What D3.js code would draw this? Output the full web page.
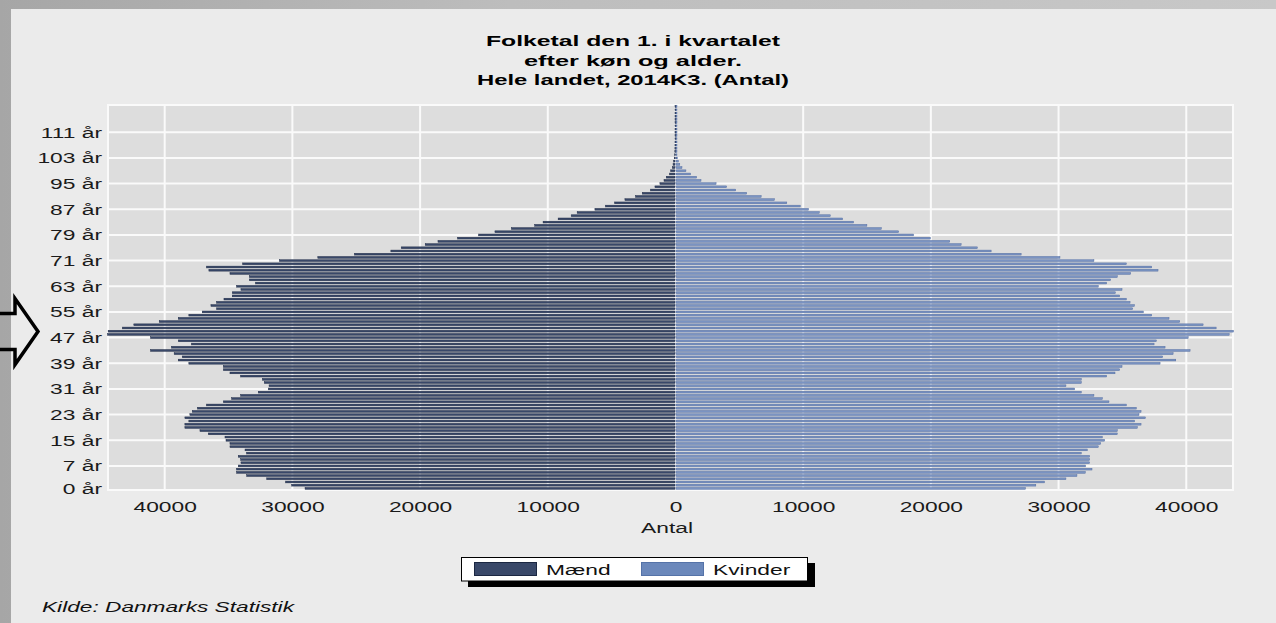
<!DOCTYPE html>
<html>
<head>
<meta charset="utf-8">
<script src="https://cdn.jsdelivr.net/npm/d3@7"></script>
<style>
  html, body { margin: 0; padding: 0; }
  body {
    width: 1276px; height: 623px; overflow: hidden;
    background: linear-gradient(90deg, #a6a6a6 0%, #bdbdbd 40%, #c8c8c8 100%);
  }
  svg { display: block; font-family: "Liberation Sans", Arial, sans-serif; }
</style>
</head>
<body>
<div id="chart"></div>
<script>
// ages 0..119
const ages = d3.range(0, 120);

// Mænd, antal per alder (0 år .. 119 år)
const maend = [
  28970, 30010, 30480, 31970, 33540, 34330, 34330, 34200, 33990, 34010,
  34200, 33540, 33670, 34850, 34850, 35160, 35240, 36550, 37200, 38380,
  38380, 38070, 38380, 37990, 37800, 37390, 36680, 35370, 34720, 34010,
  32630, 31840, 31790, 32160, 32310, 34010, 34850, 35370, 35370, 38070,
  38900, 38590, 39220, 41070, 39430, 37860, 38900, 41070, 44440, 44390,
  43270, 42380, 40390, 38900, 38070, 37020, 35900, 36340, 35900, 35320,
  34670, 34670, 33990, 34330, 32840, 33330, 33330, 34850, 36500, 36680,
  33860, 30980, 27970, 25100, 22250, 21440, 19560, 18560, 17020, 15370,
  14100, 12810, 10980, 10330, 9150, 8130, 7660, 6270, 5440, 4730,
  3920, 3090, 2560, 1910, 1570, 1180, 860, 680, 420, 340,
  210, 150, 100, 60, 30, 15, 8, 4, 2, 1,
  1, 0, 0, 0, 0, 0, 0, 0, 0, 0
];

// Kvinder, antal per alder (0 år .. 119 år)
const kvinder = [
  27370, 28180, 28860, 30540, 31400, 32050, 32580, 32080, 32390, 32390,
  32390, 31740, 32210, 33070, 33260, 33570, 33390, 34560, 34560, 36130,
  36420, 35920, 36760, 36260, 36420, 36050, 35270, 33910, 33390, 32730,
  31740, 31220, 30540, 31740, 31740, 33730, 34380, 34750, 34930, 37910,
  39140, 38120, 38930, 40260, 38300, 37440, 37620, 40110, 43320, 43660,
  42300, 41280, 39450, 38610, 37260, 36600, 35770, 35900, 35560, 35270,
  34750, 34410, 34930, 33070, 33730, 34040, 34560, 35610, 37750, 37260,
  35270, 32730, 30070, 27030, 24680, 23600, 22330, 21440, 19920, 18610,
  17440, 16080, 14950, 13910, 13050, 12080, 11220, 10380, 9730, 8680,
  7710, 6670, 5540, 4680, 3970, 3140, 1960, 1620, 1150, 780,
  470, 300, 190, 110, 70, 40, 20, 10, 5, 3,
  2, 1, 1, 0, 0, 0, 0, 0, 0, 0
];

const xTicks = [-40000, -30000, -20000, -10000, 0, 10000, 20000, 30000, 40000];
const yTickAges = [0, 7, 15, 23, 31, 39, 47, 55, 63, 71, 79, 87, 95, 103, 111];
const titleLines = ["Folketal den 1. i kvartalet", "efter køn og alder.", "Hele landet, 2014K3. (Antal)"];
const seriesNames = ["Mænd", "Kvinder"];
const xTitle = "Antal";
const source = "Kilde: Danmarks Statistik";

const W = 1276, H = 623;
const SX = 1.52; // the picture is stretched sideways, so is the text
const colMaend = "#394869", edgeMaend = "#1b2742";
const colKvinder = "#7a93c2", edgeKvinder = "#4f699e";

const svg = d3.select("#chart").append("svg")
  .attr("width", W).attr("height", H);

// light panel
svg.append("rect")
  .attr("x", 11).attr("y", 9).attr("width", W - 11).attr("height", H - 9)
  .attr("fill", "#ebebeb");

const plot = { left: 108, right: 1233, top: 105, bottom: 490 };

const x = d3.scaleLinear()
  .domain([-d3.max(maend), d3.max(kvinder)])
  .range([plot.left, plot.right]);

const y = d3.scaleBand()
  .domain(ages)
  .range([plot.bottom, plot.top]);
const bw = y.bandwidth();

// plot background
svg.append("rect")
  .attr("x", plot.left).attr("y", plot.top)
  .attr("width", plot.right - plot.left).attr("height", plot.bottom - plot.top)
  .attr("fill", "#dddddd");

// grid
svg.append("g").selectAll("line")
  .data(xTicks)
  .enter().append("line")
  .attr("x1", d => x(d)).attr("x2", d => x(d))
  .attr("y1", plot.top).attr("y2", plot.bottom)
  .attr("stroke", "#fafafa").attr("stroke-width", 2);

svg.append("g").selectAll("line")
  .data(yTickAges.filter(a => a > 0))
  .enter().append("line")
  .attr("x1", plot.left).attr("x2", plot.right)
  .attr("y1", d => y(d) + bw / 2).attr("y2", d => y(d) + bw / 2)
  .attr("stroke", "#fafafa").attr("stroke-width", 2);

svg.append("rect")
  .attr("x", plot.left).attr("y", plot.top)
  .attr("width", plot.right - plot.left).attr("height", plot.bottom - plot.top)
  .attr("fill", "none").attr("stroke", "#fafafa").attr("stroke-width", 2);

// bars
const barH = bw * 0.56;
svg.append("g").selectAll("rect")
  .data(ages)
  .enter().append("rect")
  .attr("x", a => x(-maend[a]) - 0.5)
  .attr("y", a => y(a) + (bw - barH) / 2)
  .attr("width", a => Math.max(1, x(0) - x(-maend[a])))
  .attr("height", barH)
  .attr("fill", colMaend)
  .attr("stroke", edgeMaend).attr("stroke-width", 0.45);

svg.append("g").selectAll("rect")
  .data(ages)
  .enter().append("rect")
  .attr("x", x(0) + 0.5)
  .attr("y", a => y(a) + (bw - barH) / 2)
  .attr("width", a => Math.max(1, x(kvinder[a]) - x(0)))
  .attr("height", barH)
  .attr("fill", colKvinder)
  .attr("stroke", edgeKvinder).attr("stroke-width", 0.45);

// axes
const yAxis = svg.append("g")
  .attr("transform", `translate(${plot.left},0)`)
  .call(d3.axisLeft(y).tickValues(yTickAges).tickSize(0).tickFormat(d => d + " år"));
yAxis.select(".domain").remove();
yAxis.selectAll("text")
  .attr("x", 0).attr("dy", "0.36em")
  .attr("transform", `translate(-6,0) scale(${SX},1)`)
  .style("font-size", "15px").style("font-family", "'Liberation Sans', Arial, sans-serif")
  .attr("fill", "#1a1a1a");

const xAxis = svg.append("g")
  .attr("transform", `translate(0,${plot.bottom})`)
  .call(d3.axisBottom(x).tickValues(xTicks).tickSize(0).tickFormat(d => Math.abs(d)));
xAxis.select(".domain").remove();
xAxis.selectAll("text")
  .attr("y", 0).attr("dy", 0)
  .attr("transform", `translate(0,22) scale(${SX},1)`)
  .style("font-size", "15px").style("font-family", "'Liberation Sans', Arial, sans-serif")
  .attr("fill", "#1a1a1a");

svg.append("text")
  .attr("transform", `translate(667,533) scale(${SX},1)`)
  .attr("text-anchor", "middle")
  .style("font-size", "15px")
  .attr("fill", "#1a1a1a")
  .text(xTitle);

// title
const titleWidths = [294, 218, 312];
svg.append("g").selectAll("text")
  .data(titleLines)
  .enter().append("text")
  .attr("x", 633)
  .attr("y", (d, i) => 46 + i * 19.5)
  .attr("text-anchor", "middle")
  .attr("textLength", (d, i) => titleWidths[i])
  .attr("lengthAdjust", "spacingAndGlyphs")
  .style("font-size", "15.5px").style("font-weight", "bold")
  .attr("fill", "#000")
  .text(d => d);

// legend
const legend = svg.append("g");
legend.append("rect")
  .attr("x", 468).attr("y", 563).attr("width", 347).attr("height", 24)
  .attr("fill", "#000");
legend.append("rect")
  .attr("x", 461.5).attr("y", 557.5).attr("width", 346).attr("height", 23.5)
  .attr("fill", "#fff").attr("stroke", "#000").attr("stroke-width", 1);

const legendItems = [
  { label: seriesNames[0], fill: colMaend, edge: edgeMaend, x: 474 },
  { label: seriesNames[1], fill: "#6b88bb", edge: "#5573a8", x: 641 }
];
legendItems.forEach(d => {
  legend.append("rect")
    .attr("x", d.x + 0.5).attr("y", 562.5).attr("width", 62).attr("height", 13)
    .attr("fill", d.fill).attr("stroke", d.edge).attr("stroke-width", 1);
  legend.append("text")
    .attr("transform", `translate(${d.x + 72},575) scale(${SX},1)`)
    .style("font-size", "15px")
    .attr("fill", "#111")
    .text(d.label);
});

// source
svg.append("text")
  .attr("x", 42).attr("y", 612)
  .attr("textLength", 252).attr("lengthAdjust", "spacingAndGlyphs")
  .style("font-size", "14px").style("font-style", "italic")
  .attr("fill", "#111")
  .text(source);

// arrow pointing at 47 år
const arrowY = y(47) + bw / 2 - 6;
const arrow = d3.line()([
  [-4, arrowY - 18], [15, arrowY - 18], [15, arrowY - 33], [38, arrowY],
  [15, arrowY + 33], [15, arrowY + 18], [-4, arrowY + 18]
]);
svg.append("path")
  .attr("d", arrow)
  .attr("fill", "none").attr("stroke", "#000").attr("stroke-width", 3.5)
  .attr("stroke-linejoin", "miter");
</script>
</body>
</html>
